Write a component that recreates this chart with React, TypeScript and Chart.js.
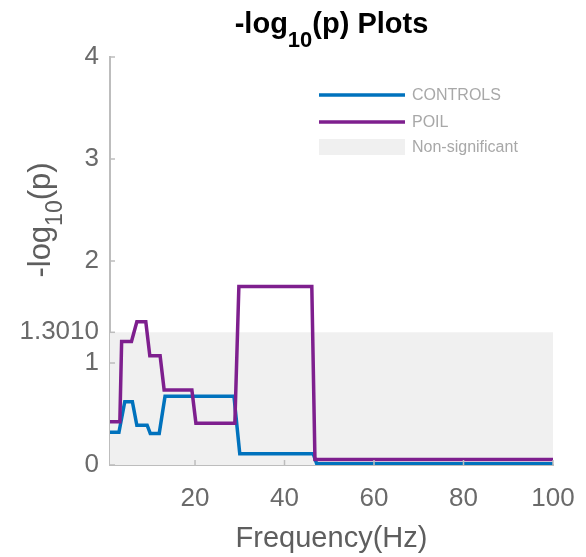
import React, { useEffect, useRef } from "react";
import { Chart, registerables } from "chart.js";

Chart.register(...registerables);

// ---- data ----
const controlsFreq = [1, 3, 4.3, 6, 7, 9.3, 10, 12, 13.3, 28.7, 30, 46.4, 47.2, 100];
const controlsVals = [0.32, 0.32, 0.62, 0.62, 0.39, 0.39, 0.31, 0.31, 0.675, 0.675, 0.11, 0.11, 0.012, 0.012];

const poilFreq = [1, 3.2, 3.6, 5.8, 7, 9, 9.9, 12.2, 13.1, 19.3, 20.2, 28.9, 29.8, 46.1, 46.8, 100];
const poilVals = [0.425, 0.425, 1.21, 1.21, 1.405, 1.405, 1.07, 1.07, 0.735, 0.735, 0.41, 0.41, 1.75, 1.75, 0.055, 0.055];

const thresholdFreq = [1, 100];
const thresholdVals = [1.301, 1.301];

const seriesLabels = ["CONTROLS", "POIL", "Non-significant"];
const yTickValues = [0, 1, 1.301, 2, 3, 4];
const xTickValues = [20, 40, 60, 80, 100];

const FONT = '"Liberation Sans", Arial, Helvetica, sans-serif';
const BLUE = "#0072BD";
const PURPLE = "#7E1F8E";
const SHADE = "#f0f0f0";

type Part = { t: string; sub?: boolean };

function drawRich(
  ctx: CanvasRenderingContext2D,
  parts: Part[],
  cx: number,
  baseline: number,
  size: number,
  subSize: number,
  subDrop: number,
  weight: string
) {
  let total = 0;
  const widths = parts.map((p) => {
    ctx.font = `${weight} ${p.sub ? subSize : size}px ${FONT}`;
    const w = ctx.measureText(p.t).width;
    total += w;
    return w;
  });
  let x = cx - total / 2;
  ctx.textAlign = "left";
  ctx.textBaseline = "alphabetic";
  parts.forEach((p, i) => {
    ctx.font = `${weight} ${p.sub ? subSize : size}px ${FONT}`;
    ctx.fillText(p.t, x, baseline + (p.sub ? subDrop : 0));
    x += widths[i];
  });
}

const decorPlugin = {
  id: "decor",
  afterDraw(chart: any) {
    const ctx: CanvasRenderingContext2D = chart.ctx;
    const { left, right, bottom } = chart.chartArea;
    const xs = chart.scales.x;
    const ys = chart.scales.y;
    ctx.save();

    // inward tick marks
    ctx.strokeStyle = "#bdbdbd";
    ctx.lineWidth = 1.5;
    yTickValues.forEach((v) => {
      const py = ys.getPixelForValue(v);
      ctx.beginPath();
      ctx.moveTo(left, py);
      ctx.lineTo(left + 5, py);
      ctx.stroke();
    });
    xTickValues.forEach((v) => {
      const px = xs.getPixelForValue(v);
      ctx.beginPath();
      ctx.moveTo(px, bottom);
      ctx.lineTo(px, bottom - 5);
      ctx.stroke();
    });

    const cx = (left + right) / 2;

    // title
    ctx.fillStyle = "#000";
    drawRich(ctx, [{ t: "-log" }, { t: "10", sub: true }, { t: "(p) Plots" }], cx, 33, 29, 22, 14, "bold");

    // x axis label
    ctx.fillStyle = "#5e5e5e";
    drawRich(ctx, [{ t: "Frequency(Hz)" }], cx, 547, 29, 29, 0, "normal");

    // y axis label (rotated)
    ctx.save();
    ctx.translate(0, 220);
    ctx.rotate(-Math.PI / 2);
    drawRich(ctx, [{ t: "-log" }, { t: "10", sub: true }, { t: "(p)" }], 0, 50, 31, 23, 12, "normal");
    ctx.restore();

    // legend inside axes
    const ds = chart.data.datasets;
    const lx0 = 319;
    const lx1 = 405;
    const rows = [95, 122, 147];
    ctx.font = `16px ${FONT}`;
    ctx.textBaseline = "middle";
    ctx.textAlign = "left";
    ds.forEach((d: any, i: number) => {
      const y = rows[i];
      if (d.fill) {
        ctx.fillStyle = d.backgroundColor;
        ctx.fillRect(lx0, y - 8, lx1 - lx0, 16);
      } else {
        ctx.strokeStyle = d.borderColor;
        ctx.lineWidth = 3.5;
        ctx.beginPath();
        ctx.moveTo(lx0, y);
        ctx.lineTo(lx1, y);
        ctx.stroke();
      }
      ctx.fillStyle = "#a8a8a8";
      ctx.fillText(d.label, 412, y + 1);
    });

    ctx.restore();
  },
};

export default function App() {
  const canvasRef = useRef<HTMLCanvasElement | null>(null);

  useEffect(() => {
    document.body.style.margin = "0";
    const canvas = canvasRef.current;
    if (!canvas) return;

    const chart = new Chart(canvas, {
      type: "line",
      data: {
        datasets: [
          {
            label: seriesLabels[0],
            data: controlsFreq.map((f, i) => ({ x: f, y: controlsVals[i] })),
            borderColor: BLUE,
            backgroundColor: BLUE,
            borderWidth: 3.5,
            pointRadius: 0,
            tension: 0,
            fill: false,
            order: 2,
          },
          {
            label: seriesLabels[1],
            data: poilFreq.map((f, i) => ({ x: f, y: poilVals[i] })),
            borderColor: PURPLE,
            backgroundColor: PURPLE,
            borderWidth: 3.5,
            pointRadius: 0,
            tension: 0,
            fill: false,
            order: 1,
          },
          {
            label: seriesLabels[2],
            data: thresholdFreq.map((f, i) => ({ x: f, y: thresholdVals[i] })),
            borderColor: SHADE,
            backgroundColor: SHADE,
            borderWidth: 0,
            pointRadius: 0,
            fill: "origin",
            order: 10,
          },
        ],
      },
      options: {
        animation: false,
        responsive: false,
        events: [],
        layout: { padding: { top: 57, right: 33, left: 0, bottom: 0 } },
        plugins: {
          legend: { display: false },
          title: { display: false },
          tooltip: { enabled: false },
        },
        scales: {
          x: {
            type: "linear",
            min: 1,
            max: 100,
            afterBuildTicks: (scale: any) => {
              scale.ticks = xTickValues.map((v) => ({ value: v }));
            },
            afterFit: (scale: any) => {
              scale.height = 92;
              scale.paddingLeft = 0;
              scale.paddingRight = 0;
            },
            grid: { display: true, drawOnChartArea: false, drawTicks: false },
            border: { display: true, color: "#bdbdbd", width: 2 },
            ticks: {
              autoSkip: false,
              maxRotation: 0,
              padding: 18,
              color: "#6a6a6a",
              font: { family: FONT, size: 26 },
            },
          },
          y: {
            type: "linear",
            min: 0,
            max: 4,
            afterBuildTicks: (scale: any) => {
              scale.ticks = yTickValues.map((v) => ({ value: v }));
            },
            afterFit: (scale: any) => {
              scale.width = 110;
              scale.paddingTop = 0;
              scale.paddingBottom = 0;
            },
            grid: { display: true, drawOnChartArea: false, drawTicks: false },
            border: { display: true, color: "#bdbdbd", width: 2 },
            ticks: {
              autoSkip: false,
              padding: 11,
              color: "#6a6a6a",
              font: { family: FONT, size: 26 },
              callback: (v: any) => (Math.abs(v - 1.301) < 1e-6 ? "1.3010" : String(v)),
            },
          },
        },
      },
      plugins: [decorPlugin],
    });

    return () => {
      chart.destroy();
    };
  }, []);

  return (
    <div style={{ width: 586, height: 557 }}>
      <canvas ref={canvasRef} width={586} height={557} />
    </div>
  );
}
